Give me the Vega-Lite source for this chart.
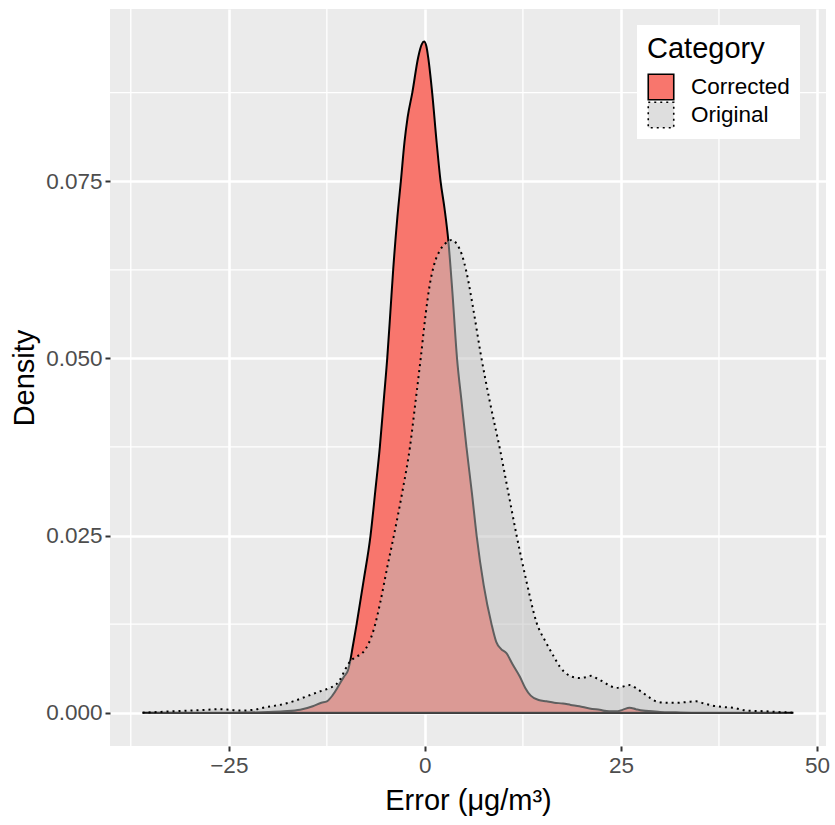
{
  "$schema": "https://vega.github.io/schema/vega-lite/v6.json",
  "width": 716,
  "height": 737,
  "autosize": {"type": "none"},
  "padding": {"left": 110, "top": 9, "right": 9, "bottom": 79},
  "background": "white",
  "config": {
    "view": {"fill": "#EBEBEB", "stroke": null},
    "font": "Liberation Sans",
    "axis": {
      "domain": false,
      "grid": true,
      "gridColor": "white",
      "gridWidth": 2.6,
      "tickColor": "#333333",
      "tickSize": 5,
      "tickWidth": 2,
      "labelFont": "Liberation Sans",
      "labelFontSize": 22.5,
      "labelColor": "#4D4D4D",
      "labelPadding": 3,
      "titleFont": "Liberation Sans",
      "titleFontSize": 29,
      "titleFontWeight": "normal",
      "titleColor": "black"
    },
    "legend": {
      "orient": "none",
      "legendX": 527,
      "legendY": 16,
      "fillColor": "white",
      "padding": 10,
      "titleFont": "Liberation Sans",
      "titleFontSize": 29,
      "titleFontWeight": "normal",
      "titleColor": "black",
      "titlePadding": 9,
      "labelFont": "Liberation Sans",
      "labelFontSize": 22.5,
      "labelColor": "black",
      "labelOffset": 16,
      "rowPadding": 0,
      "clipHeight": 28,
      "symbolType": "square",
      "symbolSize": 650,
      "symbolStrokeColor": "black",
      "symbolStrokeWidth": 1.6
    }
  },
  "datasets": {
    "minorx": [{"v": -37.5}, {"v": -12.5}, {"v": 12.5}, {"v": 37.5}],
    "minory": [{"v": 0.0125}, {"v": 0.0375}, {"v": 0.0625}, {"v": 0.0875}],
    "dens": [
      {"category": "Corrected", "x": -36, "density": 0},
      {"category": "Corrected", "x": -30, "density": 0},
      {"category": "Corrected", "x": -25, "density": 0},
      {"category": "Corrected", "x": -20, "density": 0.0001},
      {"category": "Corrected", "x": -18, "density": 0.0002},
      {"category": "Corrected", "x": -15.9, "density": 0.0004},
      {"category": "Corrected", "x": -14.3, "density": 0.0009},
      {"category": "Corrected", "x": -13.2, "density": 0.0014},
      {"category": "Corrected", "x": -12.5, "density": 0.0016},
      {"category": "Corrected", "x": -11.8, "density": 0.0024},
      {"category": "Corrected", "x": -11.2, "density": 0.0034},
      {"category": "Corrected", "x": -10.8, "density": 0.0042},
      {"category": "Corrected", "x": -10.3, "density": 0.0051},
      {"category": "Corrected", "x": -9.8, "density": 0.006},
      {"category": "Corrected", "x": -9.55, "density": 0.0071},
      {"category": "Corrected", "x": -9.2, "density": 0.0093},
      {"category": "Corrected", "x": -8.7, "density": 0.0125},
      {"category": "Corrected", "x": -7.8, "density": 0.0187},
      {"category": "Corrected", "x": -6.93, "density": 0.025},
      {"category": "Corrected", "x": -6.3, "density": 0.0315},
      {"category": "Corrected", "x": -5.74, "density": 0.0375},
      {"category": "Corrected", "x": -5.25, "density": 0.044},
      {"category": "Corrected", "x": -4.8, "density": 0.05},
      {"category": "Corrected", "x": -4.4, "density": 0.0565},
      {"category": "Corrected", "x": -4.04, "density": 0.0625},
      {"category": "Corrected", "x": -3.5, "density": 0.07},
      {"category": "Corrected", "x": -3.06, "density": 0.075},
      {"category": "Corrected", "x": -2.6, "density": 0.0805},
      {"category": "Corrected", "x": -2.2, "density": 0.084},
      {"category": "Corrected", "x": -1.6, "density": 0.0875},
      {"category": "Corrected", "x": -0.85, "density": 0.0925},
      {"category": "Corrected", "x": -0.4, "density": 0.0943},
      {"category": "Corrected", "x": -0.1, "density": 0.0947},
      {"category": "Corrected", "x": 0.2, "density": 0.094},
      {"category": "Corrected", "x": 0.42, "density": 0.0925},
      {"category": "Corrected", "x": 0.93, "density": 0.0875},
      {"category": "Corrected", "x": 1.5, "density": 0.0805},
      {"category": "Corrected", "x": 2.0, "density": 0.075},
      {"category": "Corrected", "x": 2.5, "density": 0.0712},
      {"category": "Corrected", "x": 3.0, "density": 0.0665},
      {"category": "Corrected", "x": 3.5, "density": 0.0595},
      {"category": "Corrected", "x": 4.1, "density": 0.05},
      {"category": "Corrected", "x": 4.7, "density": 0.0437},
      {"category": "Corrected", "x": 5.3, "density": 0.0375},
      {"category": "Corrected", "x": 6.0, "density": 0.031},
      {"category": "Corrected", "x": 6.6, "density": 0.025},
      {"category": "Corrected", "x": 7.5, "density": 0.018},
      {"category": "Corrected", "x": 8.5, "density": 0.0125},
      {"category": "Corrected", "x": 9.1, "density": 0.01},
      {"category": "Corrected", "x": 9.7, "density": 0.009},
      {"category": "Corrected", "x": 10.4, "density": 0.0084},
      {"category": "Corrected", "x": 11.2, "density": 0.0068},
      {"category": "Corrected", "x": 12.1, "density": 0.0051},
      {"category": "Corrected", "x": 12.8, "density": 0.0035},
      {"category": "Corrected", "x": 13.5, "density": 0.0024},
      {"category": "Corrected", "x": 14.5, "density": 0.0018},
      {"category": "Corrected", "x": 15.5, "density": 0.0016},
      {"category": "Corrected", "x": 16.5, "density": 0.0014},
      {"category": "Corrected", "x": 17.6, "density": 0.0013},
      {"category": "Corrected", "x": 18.6, "density": 0.0011},
      {"category": "Corrected", "x": 19.7, "density": 0.0009},
      {"category": "Corrected", "x": 21, "density": 0.0006},
      {"category": "Corrected", "x": 22.3, "density": 0.0004},
      {"category": "Corrected", "x": 23.5, "density": 0.0002},
      {"category": "Corrected", "x": 24.4, "density": 0.0002},
      {"category": "Corrected", "x": 25.2, "density": 0.0004},
      {"category": "Corrected", "x": 26.1, "density": 0.0007},
      {"category": "Corrected", "x": 26.9, "density": 0.0005},
      {"category": "Corrected", "x": 27.8, "density": 0.0003},
      {"category": "Corrected", "x": 29, "density": 0.0002},
      {"category": "Corrected", "x": 30, "density": 0.0001},
      {"category": "Corrected", "x": 32, "density": 0.00005},
      {"category": "Corrected", "x": 35, "density": 0},
      {"category": "Corrected", "x": 40, "density": 0},
      {"category": "Corrected", "x": 47, "density": 0},
      {"category": "Original", "x": -36, "density": 0},
      {"category": "Original", "x": -34, "density": 0.0001},
      {"category": "Original", "x": -32, "density": 0.0002},
      {"category": "Original", "x": -30, "density": 0.0003},
      {"category": "Original", "x": -28, "density": 0.0004},
      {"category": "Original", "x": -26.1, "density": 0.0005},
      {"category": "Original", "x": -24.8, "density": 0.0004},
      {"category": "Original", "x": -23.6, "density": 0.0003},
      {"category": "Original", "x": -21.9, "density": 0.0004},
      {"category": "Original", "x": -20.2, "density": 0.0008},
      {"category": "Original", "x": -18.5, "density": 0.0011},
      {"category": "Original", "x": -16.8, "density": 0.0016},
      {"category": "Original", "x": -15.1, "density": 0.0023},
      {"category": "Original", "x": -13.4, "density": 0.003},
      {"category": "Original", "x": -12.1, "density": 0.0035},
      {"category": "Original", "x": -11.3, "density": 0.004},
      {"category": "Original", "x": -10.8, "density": 0.0047},
      {"category": "Original", "x": -10.2, "density": 0.006},
      {"category": "Original", "x": -9.55, "density": 0.0072},
      {"category": "Original", "x": -8.9, "density": 0.0078},
      {"category": "Original", "x": -7.9, "density": 0.0085},
      {"category": "Original", "x": -7.2, "density": 0.0097},
      {"category": "Original", "x": -6.5, "density": 0.0118},
      {"category": "Original", "x": -5.7, "density": 0.0155},
      {"category": "Original", "x": -4.8, "density": 0.0205},
      {"category": "Original", "x": -3.95, "density": 0.025},
      {"category": "Original", "x": -2.9, "density": 0.031},
      {"category": "Original", "x": -1.9, "density": 0.0375},
      {"category": "Original", "x": -1.2, "density": 0.0438},
      {"category": "Original", "x": -0.55, "density": 0.0498},
      {"category": "Original", "x": 0.1, "density": 0.0562},
      {"category": "Original", "x": 0.64, "density": 0.0605},
      {"category": "Original", "x": 1.2, "density": 0.0633},
      {"category": "Original", "x": 1.9, "density": 0.0652},
      {"category": "Original", "x": 2.6, "density": 0.0662},
      {"category": "Original", "x": 3.4, "density": 0.0667},
      {"category": "Original", "x": 4.1, "density": 0.0661},
      {"category": "Original", "x": 4.7, "density": 0.0647},
      {"category": "Original", "x": 5.3, "density": 0.0622},
      {"category": "Original", "x": 6.2, "density": 0.0568},
      {"category": "Original", "x": 7.14, "density": 0.0505},
      {"category": "Original", "x": 8.3, "density": 0.0438},
      {"category": "Original", "x": 9.57, "density": 0.0372},
      {"category": "Original", "x": 10.6, "density": 0.0313},
      {"category": "Original", "x": 11.7, "density": 0.025},
      {"category": "Original", "x": 12.9, "density": 0.0188},
      {"category": "Original", "x": 14.25, "density": 0.0127},
      {"category": "Original", "x": 15.5, "density": 0.0098},
      {"category": "Original", "x": 16.4, "density": 0.008},
      {"category": "Original", "x": 17.2, "density": 0.0065},
      {"category": "Original", "x": 18.5, "density": 0.0052},
      {"category": "Original", "x": 19.7, "density": 0.0049},
      {"category": "Original", "x": 20.5, "density": 0.005},
      {"category": "Original", "x": 21.2, "density": 0.0052},
      {"category": "Original", "x": 22.0, "density": 0.0048},
      {"category": "Original", "x": 22.7, "density": 0.0044},
      {"category": "Original", "x": 23.6, "density": 0.0038},
      {"category": "Original", "x": 24.4, "density": 0.0035},
      {"category": "Original", "x": 25.3, "density": 0.0037},
      {"category": "Original", "x": 26.1, "density": 0.0039},
      {"category": "Original", "x": 27.0, "density": 0.0034},
      {"category": "Original", "x": 27.8, "density": 0.0028},
      {"category": "Original", "x": 28.7, "density": 0.0021},
      {"category": "Original", "x": 29.5, "density": 0.0016},
      {"category": "Original", "x": 30.8, "density": 0.0014},
      {"category": "Original", "x": 32.1, "density": 0.0014},
      {"category": "Original", "x": 33.4, "density": 0.0015},
      {"category": "Original", "x": 34.6, "density": 0.0016},
      {"category": "Original", "x": 35.6, "density": 0.0013},
      {"category": "Original", "x": 36.7, "density": 0.001},
      {"category": "Original", "x": 38, "density": 0.0008},
      {"category": "Original", "x": 39.3, "density": 0.0007},
      {"category": "Original", "x": 41, "density": 0.0003},
      {"category": "Original", "x": 43.5, "density": 0.0002},
      {"category": "Original", "x": 45, "density": 0.0001},
      {"category": "Original", "x": 47, "density": 0}
    ]
  },
  "layer": [
    {
      "data": {"name": "minorx"},
      "mark": {"type": "rule", "color": "white", "strokeWidth": 1.3},
      "encoding": {
        "x": {"field": "v", "type": "quantitative", "scale": {"domain": [-40.15, 51.15], "nice": false, "zero": false}, "title": "Error (μg/m³)", "axis": {"values": [-25, 0, 25, 50], "titlePadding": 10}}
      }
    },
    {
      "data": {"name": "minory"},
      "mark": {"type": "rule", "color": "white", "strokeWidth": 1.3},
      "encoding": {
        "y": {"field": "v", "type": "quantitative", "scale": {"domain": [-0.0047, 0.0993], "nice": false, "zero": false}, "title": "Density", "axis": {"values": [0, 0.025, 0.05, 0.075], "format": ".3f", "titlePadding": 6}}
      }
    },
    {
      "data": {"name": "dens"},
      "transform": [{"filter": "datum.category === 'Corrected'"}],
      "mark": {"type": "area", "interpolate": "monotone", "stroke": "black", "strokeWidth": 2, "opacity": 1},
      "encoding": {
        "x": {"field": "x", "type": "quantitative", "title": "Error (μg/m³)"},
        "y": {"field": "density", "type": "quantitative", "title": "Density"},
        "fill": {
          "field": "category", "type": "nominal", "title": "Category",
          "scale": {"domain": ["Corrected", "Original"], "range": ["#F8766D", "rgba(190,190,190,0.5)"]},
          "legend": {"symbolType": "square", "rowPadding": 0, "clipHeight": 28}
        }
      }
    },
    {
      "data": {"name": "dens"},
      "transform": [{"filter": "datum.category === 'Original'"}],
      "mark": {"type": "area", "interpolate": "monotone", "strokeWidth": 0, "opacity": 1},
      "encoding": {
        "x": {"field": "x", "type": "quantitative", "title": "Error (μg/m³)"},
        "y": {"field": "density", "type": "quantitative", "title": "Density"},
        "fill": {"field": "category", "type": "nominal", "title": "Category", "legend": {"symbolType": "square", "rowPadding": 0, "clipHeight": 28}}
      }
    },
    {
      "data": {"name": "dens"},
      "transform": [{"filter": "datum.category === 'Original'"}],
      "mark": {"type": "line", "interpolate": "monotone", "color": "black", "strokeWidth": 2, "opacity": 1},
      "encoding": {
        "x": {"field": "x", "type": "quantitative", "title": "Error (μg/m³)"},
        "y": {"field": "density", "type": "quantitative", "title": "Density"},
        "strokeDash": {
          "field": "category", "type": "nominal", "title": "Category",
          "scale": {"domain": ["Corrected", "Original"], "range": [[1, 0], [2, 4]]},
          "legend": {"symbolType": "square", "rowPadding": 0, "clipHeight": 28}
        }
      }
    }
  ]
}
